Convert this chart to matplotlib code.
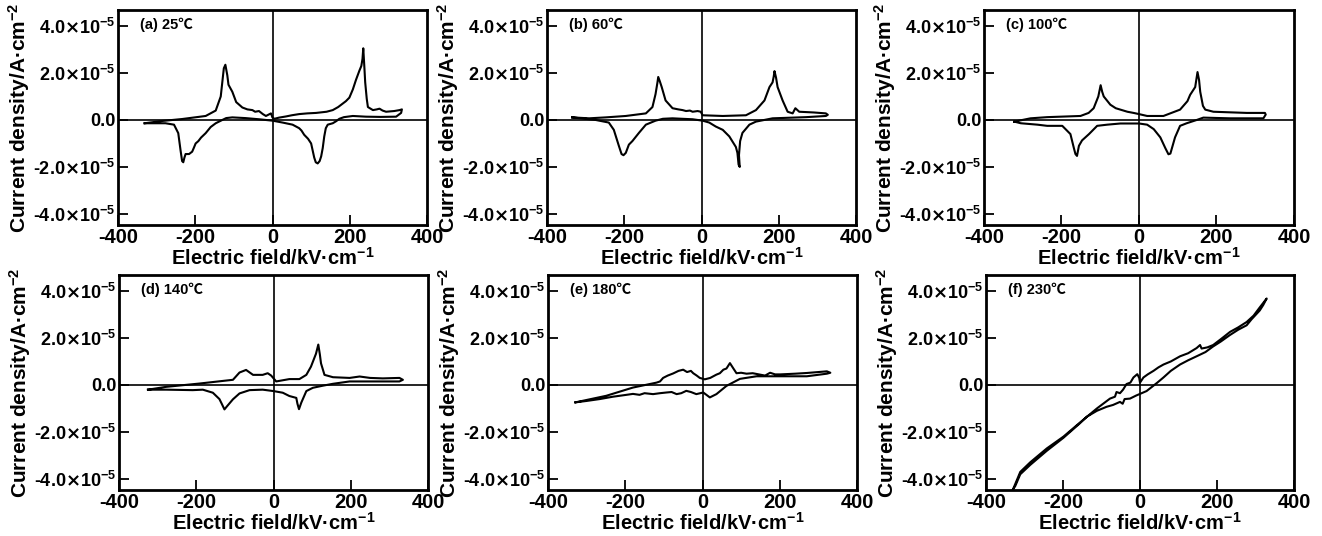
import matplotlib
matplotlib.use('Agg')
import matplotlib.pyplot as plt
import numpy as np

plt.rcParams['font.family'] = ['Liberation Sans', 'DejaVu Sans']
plt.rcParams['font.weight'] = 'bold'
plt.rcParams['mathtext.fontset'] = 'custom'
plt.rcParams['mathtext.rm'] = 'Liberation Sans:bold'
plt.rcParams['mathtext.it'] = 'Liberation Sans:bold'
plt.rcParams['mathtext.bf'] = 'Liberation Sans:bold'
plt.rcParams['mathtext.sf'] = 'DejaVu Sans:bold'
plt.rcParams['mathtext.default'] = 'rm'
plt.rcParams['axes.unicode_minus'] = False

# ---------------- data (field in kV/cm, current density in 1e-5 A/cm^2) ----------------
Y_UNIT = 1e-5

panel_titles = ['(a) 25℃', '(b) 60℃', '(c) 100℃', '(d) 140℃', '(e) 180℃', '(f) 230℃']

field_a = [-331, -290, -234, -173, -147, -134, -126, -122, -117, -114, -104, -94, -78, -65, -52, -45, -35, -25,
           -17, -4, 0, 5, 17, 35, 50, 69, 90, 113, 140, 156, 170, 182, 190, 199, 208, 216, 225, 230, 233, 235,
           238, 240, 244, 247, 260, 270, 277, 285, 294, 315, 329, 335,
           333, 320, 280, 242, 208, 185, 173, 165, 156, 143, 138, 134, 130, 126, 122, 117, 112, 108, 104, 100,
           92, 82, 75, 69, 52, 26, 0, -35, -70, -104, -120, -130, -147, -160, -173, -185, -192, -199, -204,
           -208, -216, -225, -228, -231, -234, -238, -244, -255, -277, -331]
current_a = [-0.14, -0.05, 0.04, 0.17, 0.4, 1.0, 2.2, 2.35, 1.9, 1.5, 1.2, 0.76, 0.53, 0.45, 0.42, 0.35, 0.38, 0.25,
             0.17, 0.28, 0.1, 0.05, 0.1, 0.15, 0.2, 0.25, 0.28, 0.3, 0.35, 0.42, 0.55, 0.7, 0.8, 0.95, 1.3, 1.7,
             2.1, 2.3, 2.6, 3.05, 2.2, 1.6, 0.9, 0.55, 0.42, 0.45, 0.48, 0.4, 0.35, 0.38, 0.42, 0.45,
             0.3, 0.14, 0.13, 0.14, 0.17, 0.12, 0.05, -0.05, -0.14, -0.2, -0.35, -0.7, -1.2, -1.55, -1.75, -1.85,
             -1.8, -1.6, -1.3, -1.0, -0.8, -0.63, -0.45, -0.35, -0.2, -0.11, -0.03, 0.03, 0.08, 0.11, 0.08, 0.0,
             -0.14, -0.3, -0.56, -0.75, -0.9, -1.0, -1.2, -1.35, -1.45, -1.45, -1.6, -1.8, -1.75, -1.3, -0.56,
             -0.2, -0.14, -0.14]

field_b = [-335, -291, -248, -196, -144, -127, -119, -114, -112, -108, -103, -93, -75, -60, -49, -40, -30, -23,
           -10, -2, 3, 55, 115, 141, 163, 176, 184, 187, 189, 193, 197, 210, 223, 236, 243, 253, 290, 322, 327,
           322, 271, 184, 141, 124, 106, 100, 97, 99, 96, 93, 89, 72, 55, 37, 20, 3, -23, -50, -75, -100, -119,
           -144, -162, -179, -188, -196, -202, -207, -214, -227, -240, -274, -335]
current_b = [0.11, 0.07, 0.11, 0.17, 0.28, 0.55, 1.1, 1.6, 1.83, 1.65, 1.4, 0.83, 0.5, 0.45, 0.42, 0.38, 0.4, 0.35,
             0.38, 0.35, 0.2, 0.17, 0.2, 0.42, 0.83, 1.4, 1.6, 1.85, 2.08, 1.8, 1.4, 0.83, 0.35, 0.28, 0.5, 0.35,
             0.32, 0.28, 0.22,
             0.17, 0.12, 0.07, -0.07, -0.2, -0.55, -0.9, -1.5, -2.0, -1.9, -1.4, -1.15, -0.7, -0.42, -0.28, -0.11,
             -0.03, 0.03, 0.05, 0.07, 0.05, -0.03, -0.2, -0.55, -0.9, -1.05, -1.4, -1.5, -1.45, -1.1, -0.42, -0.11,
             0.0, 0.11]

field_c = [-322, -280, -237, -151, -130, -117, -105, -99, -95, -91, -74, -60, -48, -30, -14, 0, 21, 63, 106, 125,
           132, 145, 151, 155, 158, 165, 171, 192, 278, 325, 327,
           321, 235, 166, 149, 123, 106, 93, 81, 76, 68, 55, 38, 21, 0, -48, -82, -108, -129, -147, -155, -160,
           -164, -168, -177, -198, -237, -262, -305, -322]
current_c = [-0.07, 0.07, 0.12, 0.17, 0.3, 0.5, 1.0, 1.48, 1.2, 1.0, 0.65, 0.5, 0.44, 0.35, 0.3, 0.25, 0.17, 0.17,
             0.44, 0.8, 1.07, 1.4, 2.04, 1.7, 1.2, 0.6, 0.44, 0.35, 0.3, 0.3, 0.23,
             0.07, 0.07, 0.1, 0.0, -0.14, -0.25, -0.74, -1.43, -1.46, -1.2, -0.74, -0.39, -0.2, -0.15, -0.15, -0.2,
             -0.25, -0.6, -0.87, -1.1, -1.53, -1.45, -1.2, -0.6, -0.25, -0.25, -0.2, -0.14, -0.07]

field_d = [-325, -278, -192, -105, -88, -71, -53, -28, -15, -6, 7, 41, 67, 85, 97, 110, 116, 120, 123, 132, 154,
           197, 223, 250, 283, 326, 335,
           326, 240, 197, 154, 128, 102, 85, 72, 66, 62, 59, 41, 24, 0, -28, -62, -88, -105, -120, -127, -134,
           -140, -157, -183, -209, -278, -325]
current_d = [-0.2, -0.08, 0.06, 0.22, 0.53, 0.64, 0.43, 0.43, 0.5, 0.4, 0.15, 0.25, 0.25, 0.43, 0.78, 1.33, 1.72,
             1.3, 0.92, 0.43, 0.33, 0.3, 0.36, 0.3, 0.28, 0.3, 0.22,
             0.15, 0.15, 0.15, 0.05, -0.03, -0.12, -0.26, -0.75, -1.03, -0.8, -0.55, -0.47, -0.33, -0.26, -0.2,
             -0.22, -0.36, -0.61, -0.9, -1.04, -0.8, -0.6, -0.33, -0.2, -0.22, -0.2, -0.2]

field_e = [-329, -249, -180, -119, -110, -102, -90, -76, -62, -50, -40, -30, -24, -15, -7, 6, 20, 36, 45, 54, 62,
           71, 80, 88, 100, 114, 130, 149, 162, 175, 188, 201, 240, 270, 300, 322, 331,
           322, 270, 183, 140, 97, 62, 36, 19, 2, -16, -30, -42, -55, -67, -80, -93, -110, -128, -150, -163,
           -180, -197, -232, -266, -300, -329]
current_e = [-0.74, -0.46, -0.11, 0.1, 0.15, 0.3, 0.4, 0.49, 0.6, 0.65, 0.55, 0.6, 0.5, 0.4, 0.3, 0.24, 0.3, 0.44,
             0.5, 0.65, 0.7, 0.93, 0.7, 0.5, 0.52, 0.48, 0.5, 0.44, 0.4, 0.52, 0.45, 0.45, 0.48, 0.51, 0.55, 0.58,
             0.52,
             0.48, 0.37, 0.37, 0.37, 0.26, -0.04, -0.39, -0.53, -0.32, -0.39, -0.3, -0.25, -0.35, -0.39, -0.3,
             -0.32, -0.35, -0.39, -0.35, -0.42, -0.38, -0.42, -0.5, -0.6, -0.68, -0.74]

field_f = [-330, -311, -285, -242, -199, -156, -112, -78, -65, -61, -52, -44, -35, -25, -17, -7, -2, 0, 9, 20, 35,
           48, 61, 80, 104, 125, 147, 156, 160, 175, 190, 210, 234, 255, 277, 295, 311, 329,
           320, 311, 290, 277, 255, 234, 210, 190, 170, 147, 125, 104, 80, 61, 45, 35, 17, 0, -10, -26, -40, -45,
           -52, -70, -87, -112, -138, -156, -199, -242, -285, -311, -324, -330]
current_f = [-4.45, -3.7, -3.29, -2.7, -2.2, -1.6, -1.0, -0.58, -0.5, -0.3, -0.35, -0.2, 0.04, 0.1, 0.32, 0.46,
             0.3, 0.1, 0.32, 0.45, 0.6, 0.75, 0.87, 1.0, 1.22, 1.35, 1.57, 1.7, 1.55, 1.6, 1.7, 1.95, 2.26, 2.45,
             2.68, 2.95, 3.3, 3.68,
             3.4, 3.17, 2.8, 2.54, 2.35, 2.13, 1.85, 1.64, 1.4, 1.22, 1.05, 0.87, 0.6, 0.32, 0.1, -0.03, -0.26,
             -0.38, -0.45, -0.58, -0.6, -0.8, -0.72, -0.85, -0.93, -1.1, -1.35, -1.63, -2.25, -2.8, -3.4, -3.8,
             -4.3, -4.45]

xtick_values = [-400, -200, 0, 200, 400]
xtick_labels = ['-400', '-200', '0', '200', '400']
ytick_values = [4.0, 2.0, 0.0, -2.0, -4.0]
ytick_labels = [r'4.0$\mathsf{×}$10$^{-5}$', r'2.0$\mathsf{×}$10$^{-5}$', '0.0',
                r'-2.0$\mathsf{×}$10$^{-5}$', r'-4.0$\mathsf{×}$10$^{-5}$']

x_label = r'Electric field/kV·cm$^{-1}$'
y_label = r'Current density/A·cm$^{-2}$'

fields = [field_a, field_b, field_c, field_d, field_e, field_f]
currents = [current_a, current_b, current_c, current_d, current_e, current_f]

# ---------------- layout ----------------
W, H = 1322, 536
fig = plt.figure(figsize=(W / 100, H / 100), dpi=100)

rects_px = [
    (118, 10, 309, 215), (547, 10, 309, 215), (984, 10, 310, 215),
    (119, 275, 309, 215), (548, 275, 309, 215), (986, 275, 308, 215),
]

for i, (l, t, w, h) in enumerate(rects_px):
    ax = fig.add_axes([l / W, 1 - (t + h) / H, w / W, h / H])
    ax.axhline(0, color='black', lw=1.2, zorder=1)
    ax.axvline(0, color='black', lw=1.2, zorder=1)
    x = np.array(fields[i], dtype=float)
    y = np.array(currents[i], dtype=float) * Y_UNIT
    ax.plot(x, y, color='black', lw=1.5, zorder=2)
    ax.set_xlim(-400, 400)
    ax.set_ylim(-4.47 * Y_UNIT, 4.68 * Y_UNIT)
    ax.set_xticks(xtick_values)
    ax.set_xticklabels(xtick_labels, fontsize=14.5, fontweight='bold')
    ax.set_yticks([v * Y_UNIT for v in ytick_values])
    ax.set_yticklabels(ytick_labels, fontsize=13, fontweight='bold')
    ax.tick_params(direction='in', length=7, width=1.3, pad=2, colors='black')
    ax.tick_params(axis='x', pad=2)
    for s in ax.spines.values():
        s.set_linewidth(2.0)
    ax.set_xlabel(x_label, fontsize=14.5, fontweight='bold', labelpad=0)
    ax.set_ylabel(y_label, fontsize=15, fontweight='bold', labelpad=1)
    ax.text(0.07, 0.965, panel_titles[i], transform=ax.transAxes, ha='left', va='top',
            fontsize=10.5, fontweight='bold', family=['Liberation Sans', 'Noto Sans CJK SC'])

fig.savefig('out.png', dpi=100)
